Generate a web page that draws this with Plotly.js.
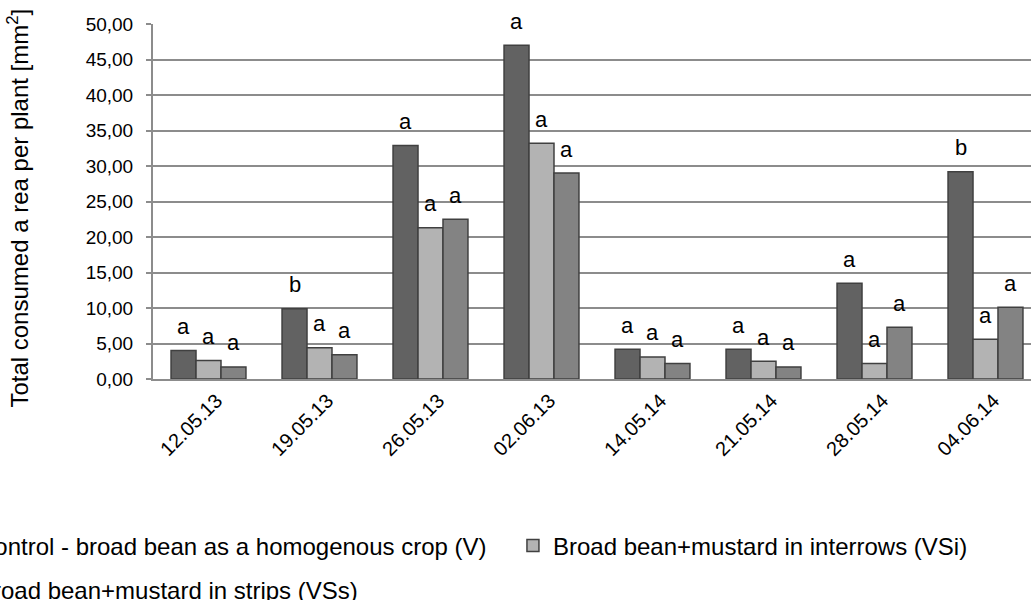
<!DOCTYPE html>
<html>
<head>
<meta charset="utf-8">
<script src="https://cdn.plot.ly/plotly-3.0.1.min.js"></script>
<style>
  html, body { margin: 0; padding: 0; width: 1031px; height: 600px; overflow: hidden; background: #fff; }
  #chart { position: absolute; left: -150px; top: 0; width: 1250px; height: 640px; }
</style>
</head>
<body>
<div id="chart"></div>
<script>
// ---- data ----
var categories = ['12.05.13', '19.05.13', '26.05.13', '02.06.13', '14.05.14', '21.05.14', '28.05.14', '04.06.14'];
var seriesNames = [
  'Control - broad bean as a homogenous crop (V)',
  'Broad bean+mustard in interrows (VSi)',
  'Broad bean+mustard in strips (VSs)'
];
var valuesV   = [4.0, 9.9, 32.9, 47.0, 4.2, 4.2, 13.5, 29.2];
var valuesVSi = [2.6, 4.4, 21.3, 33.2, 3.1, 2.5, 2.2, 5.6];
var valuesVSs = [1.7, 3.4, 22.5, 29.0, 2.2, 1.7, 7.3, 10.1];
var lettersV   = ['a', 'b', 'a', 'a', 'a', 'a', 'a', 'b'];
var lettersVSi = ['a', 'a', 'a', 'a', 'a', 'a', 'a', 'a'];
var lettersVSs = ['a', 'a', 'a', 'a', 'a', 'a', 'a', 'a'];
var yTickVals = [0, 5, 10, 15, 20, 25, 30, 35, 40, 45, 50];

// ---- style ----
var colors = ['#626262', '#b3b3b3', '#838383'];
var outline = '#404040';
var bargap = 0.325;
var fontFamily = 'Liberation Sans, Arial, sans-serif';

var allValues = [valuesV, valuesVSi, valuesVSs];
var allLetters = [lettersV, lettersVSi, lettersVSs];
var legendIds = ['legend', 'legend', 'legend2'];

var traces = allValues.map(function (vals, k) {
  return {
    type: 'bar',
    name: seriesNames[k],
    x: categories,
    y: vals,
    marker: { color: colors[k], line: { color: outline, width: 1.5 } },
    legend: legendIds[k],
    hoverinfo: 'x+y+name'
  };
});

var barW = (1 - bargap) / 3;
var annotations = [];
allLetters.forEach(function (letters, k) {
  letters.forEach(function (L, i) {
    annotations.push({
      x: i + (k - 1) * barW,
      y: allValues[k][i],
      xref: 'x', yref: 'y',
      text: L,
      showarrow: false,
      yanchor: 'middle',
      yshift: 24,
      font: { family: fontFamily, size: 22, color: '#000' }
    });
  });
});

var layout = {
  width: 1250,
  height: 640,
  margin: { l: 303, r: 59, t: 24, b: 261, autoexpand: false },
  paper_bgcolor: '#fff',
  plot_bgcolor: '#fff',
  separators: ', ',
  barmode: 'group',
  bargap: bargap,
  bargroupgap: 0,
  font: { family: fontFamily, color: '#000' },
  xaxis: {
    type: 'category',
    tickangle: -45,
    tickfont: { family: fontFamily, size: 20, color: '#000' },
    ticklabelshift: 8,
    ticklabelstandoff: 0,
    showline: true,
    linecolor: '#8c8c8c',
    linewidth: 2,
    showgrid: false,
    ticks: '',
    automargin: false
  },
  yaxis: {
    range: [0, 50],
    tickvals: yTickVals,
    tickformat: '.2f',
    tickfont: { family: fontFamily, size: 19, color: '#000' },
    ticklabelstandoff: 9,
    showline: true,
    linecolor: '#8c8c8c',
    linewidth: 2,
    showgrid: true,
    gridcolor: '#8c8c8c',
    gridwidth: 1.5,
    zeroline: false,
    ticks: 'outside',
    ticklen: 5,
    tickcolor: '#8c8c8c',
    tickwidth: 1.5,
    automargin: false,
    title: {
      text: 'Total consumed a rea per plant [mm<sup>2</sup>]&nbsp;&nbsp;',
      font: { family: fontFamily, size: 24, color: '#000' },
      standoff: 50
    }
  },
  legend: {
    orientation: 'h',
    x: -0.2433, xanchor: 'left',
    y: -0.4704, yanchor: 'middle',
    entrywidth: 531,
    font: { family: fontFamily, size: 24, color: '#000' },
    bgcolor: 'rgba(0,0,0,0)'
  },
  legend2: {
    orientation: 'h',
    x: -0.2433, xanchor: 'left',
    y: -0.5944, yanchor: 'middle',
    font: { family: fontFamily, size: 24, color: '#000' },
    bgcolor: 'rgba(0,0,0,0)'
  },
  annotations: annotations,
  showlegend: true
};

Plotly.newPlot('chart', traces, layout, { displayModeBar: false, responsive: false });
</script>
</body>
</html>
